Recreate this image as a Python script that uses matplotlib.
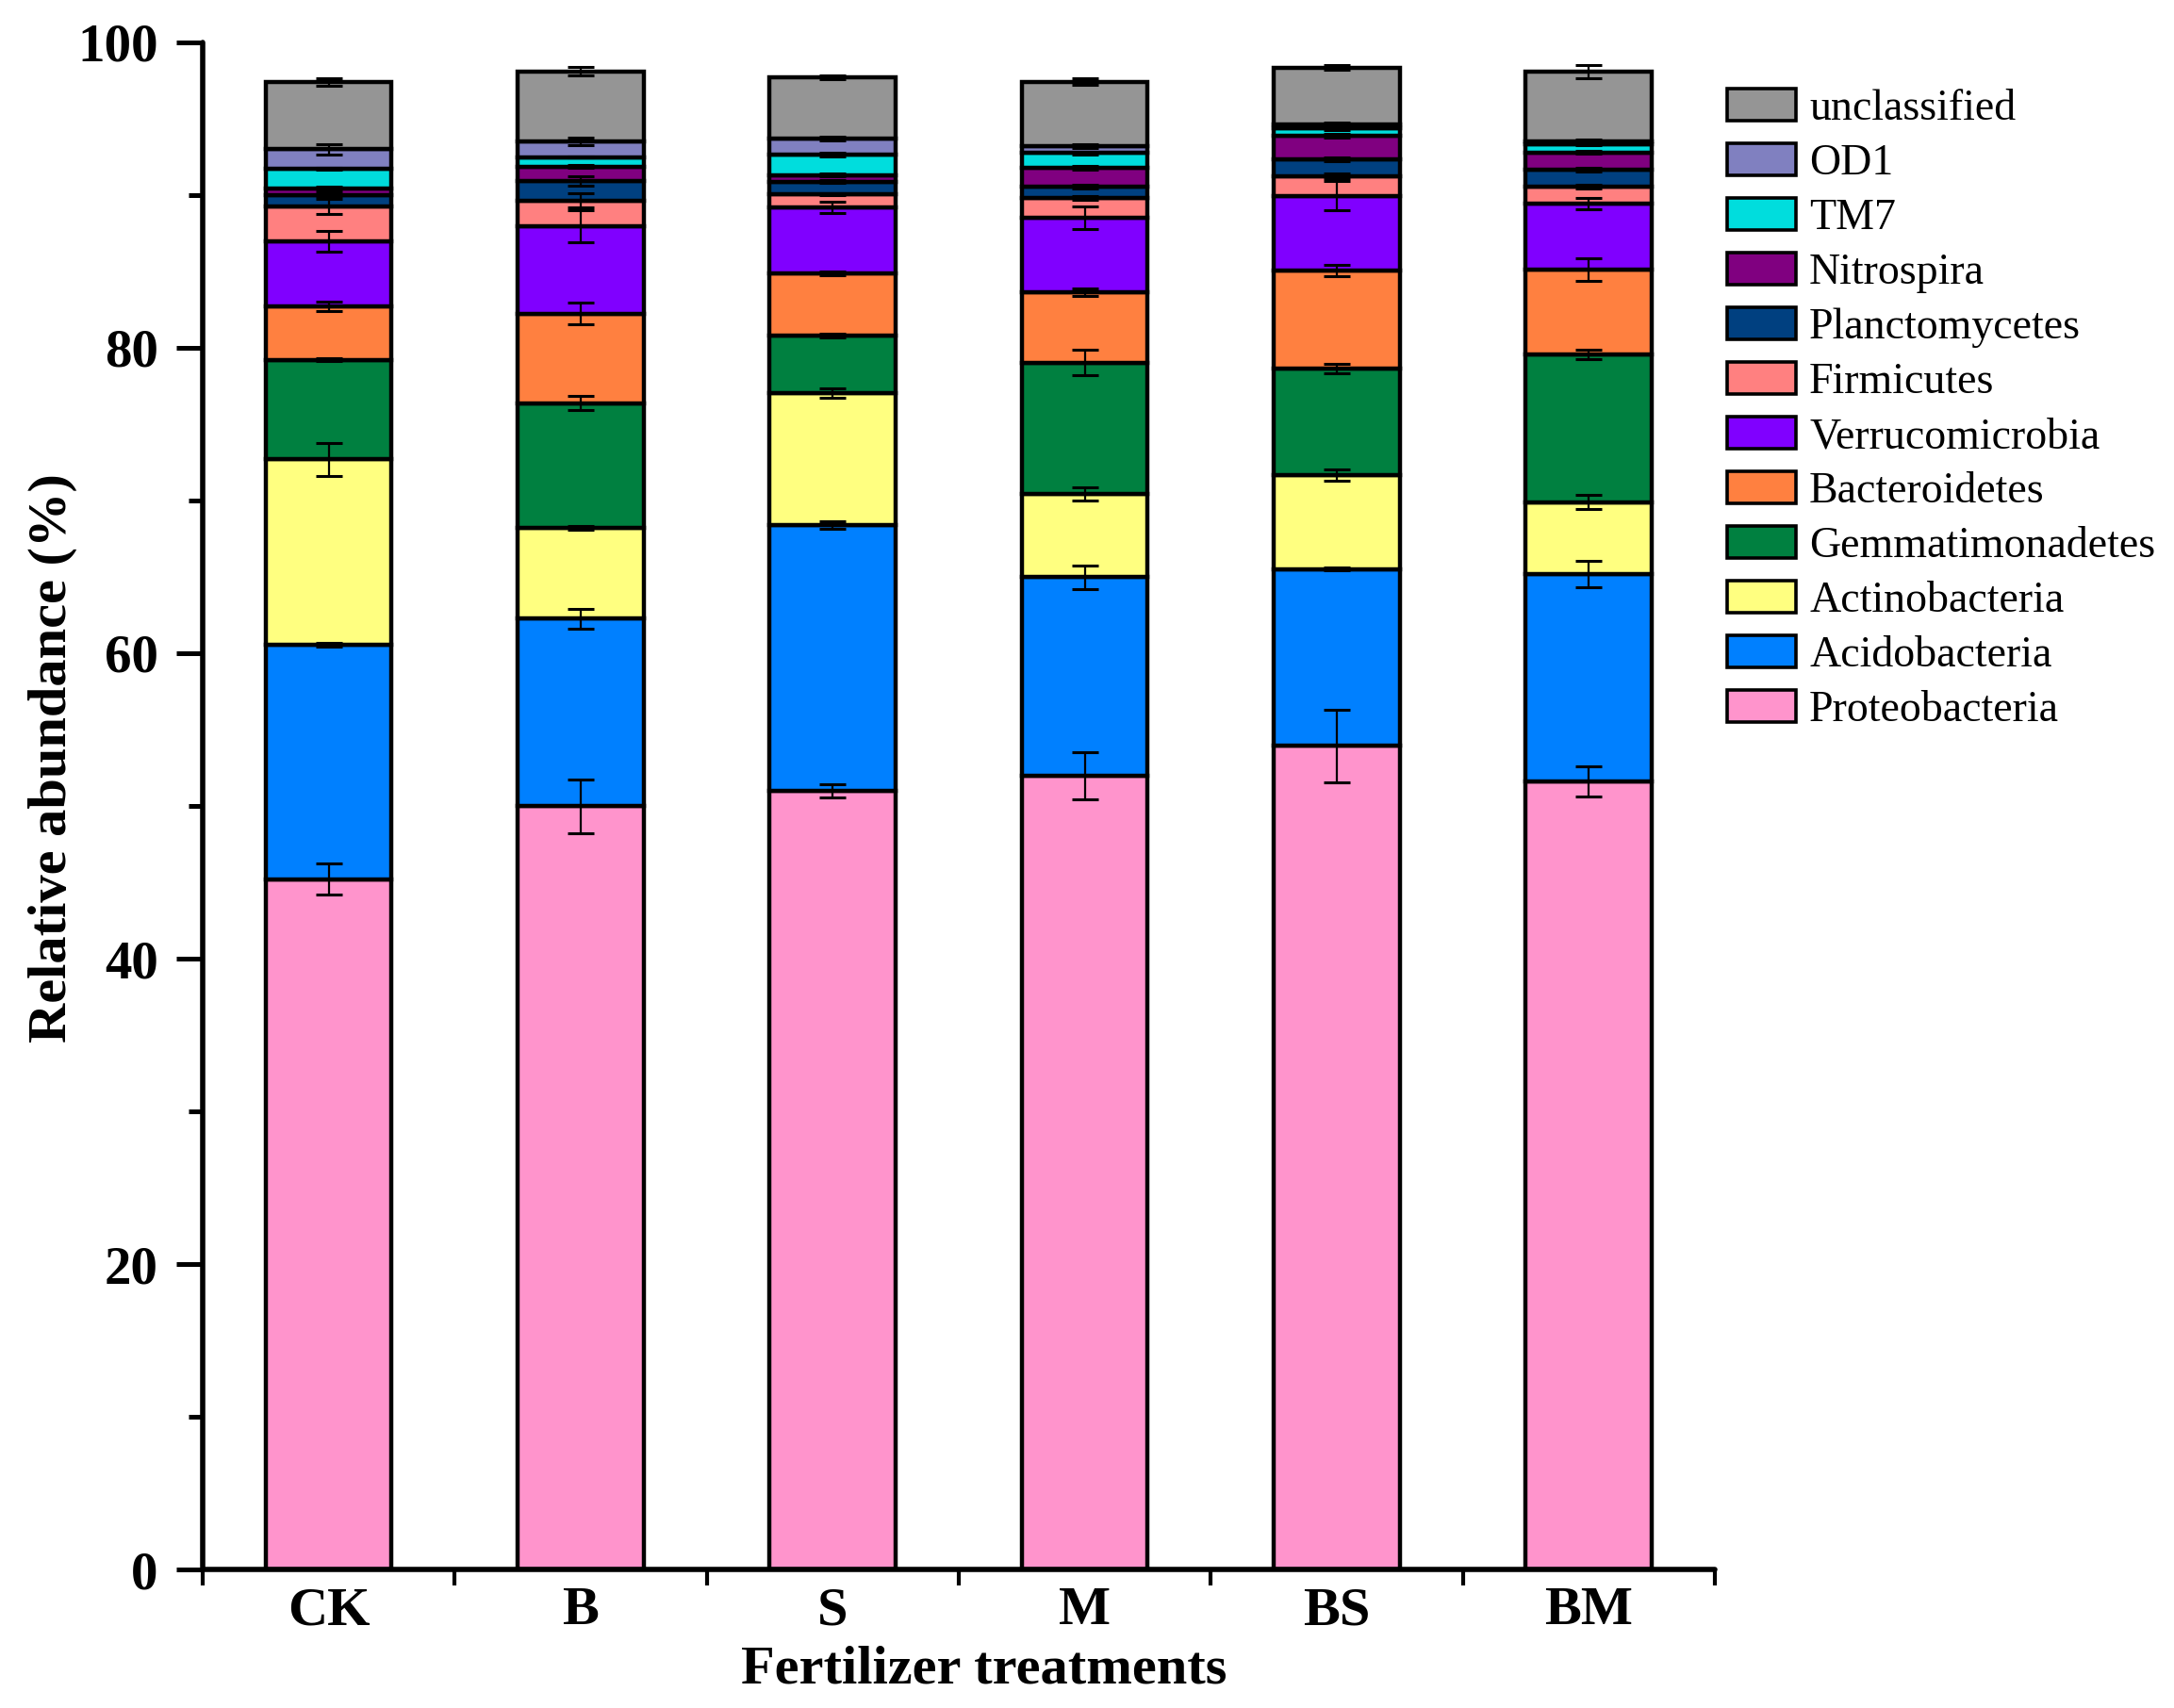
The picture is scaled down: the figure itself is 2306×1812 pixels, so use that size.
import numpy as np
import matplotlib
matplotlib.use("Agg")
import matplotlib.pyplot as plt
from matplotlib.patches import Patch
from matplotlib.ticker import MultipleLocator, FixedLocator, NullFormatter

plt.rcParams['font.family'] = ['Liberation Serif', 'DejaVu Serif']

# treatments on the x axis
treatments = ['CK', 'B', 'S', 'M', 'BS', 'BM']

# phyla, bottom of the stack first
phyla = ['Proteobacteria', 'Acidobacteria', 'Actinobacteria', 'Gemmatimonadetes',
         'Bacteroidetes', 'Verrucomicrobia', 'Firmicutes', 'Planctomycetes',
         'Nitrospira', 'TM7', 'OD1', 'unclassified']

colors = ['#FF94CC', '#0080FF', '#FFFF80', '#008040', '#FF8040', '#8000FF',
          '#FF8080', '#004080', '#800080', '#00DDDD', '#8080C0', '#959595']

# relative abundance (%) per phylum, one value per treatment
proteobacteria   = [45.20, 49.98, 51.00, 52.00, 53.93, 51.60]
acidobacteria    = [15.35, 12.28, 17.40, 12.97, 11.57, 13.56]
actinobacteria   = [12.15, 5.94, 8.63, 5.47, 6.18, 4.74]
gemmatimonadetes = [6.52, 8.18, 3.78, 8.58, 6.97, 9.67]
bacteroidetes    = [3.50, 5.87, 4.07, 4.63, 6.43, 5.56]
verrucomicrobia  = [4.26, 5.71, 4.32, 4.87, 4.88, 4.31]
firmicutes       = [2.28, 1.69, 0.86, 1.29, 1.29, 1.13]
planctomycetes   = [0.76, 1.29, 0.82, 0.76, 1.08, 1.10]
nitrospira       = [0.41, 0.93, 0.43, 1.20, 1.54, 1.13]
tm7              = [1.28, 0.62, 1.36, 0.99, 0.51, 0.51]
od1              = [1.29, 1.03, 1.05, 0.44, 0.27, 0.21]
unclassified     = [4.42, 4.58, 4.01, 4.22, 3.70, 4.58]

# standard errors
err_proteobacteria   = [1.03, 1.77, 0.45, 1.54, 2.37, 0.97]
err_acidobacteria    = [0.10, 0.64, 0.23, 0.77, 0.10, 0.86]
err_actinobacteria   = [1.09, 0.12, 0.33, 0.44, 0.38, 0.47]
err_gemmatimonadetes = [0.10, 0.44, 0.12, 0.83, 0.31, 0.31]
err_bacteroidetes    = [0.31, 0.68, 0.10, 0.23, 0.38, 0.73]
err_verrucomicrobia  = [0.68, 1.03, 0.36, 0.73, 0.98, 0.37]
err_firmicutes       = [0.48, 0.45, 0.05, 0.10, 0.15, 0.12]
err_planctomycetes   = [0.10, 0.31, 0.08, 0.12, 0.12, 0.12]
err_nitrospira       = [0.10, 0.10, 0.10, 0.12, 0.12, 0.08]
err_tm7              = [0.05, 0.05, 0.12, 0.10, 0.10, 0.05]
err_od1              = [0.36, 0.27, 0.12, 0.12, 0.10, 0.10]
err_unclassified     = [0.25, 0.29, 0.12, 0.23, 0.15, 0.42]

values = [proteobacteria, acidobacteria, actinobacteria, gemmatimonadetes,
          bacteroidetes, verrucomicrobia, firmicutes, planctomycetes,
          nitrospira, tm7, od1, unclassified]
errors = [err_proteobacteria, err_acidobacteria, err_actinobacteria,
          err_gemmatimonadetes, err_bacteroidetes, err_verrucomicrobia,
          err_firmicutes, err_planctomycetes, err_nitrospira, err_tm7,
          err_od1, err_unclassified]

fig = plt.figure(figsize=(23.06, 18.12), dpi=100)
ax = fig.add_axes([0.0932, 0.0811, 0.6956, 0.8941])

x = np.arange(len(treatments))
bottom = np.zeros(len(treatments))
tops = []
for vals, col in zip(values, colors):
    vals = np.array(vals)
    ax.bar(x, vals, width=0.5, bottom=bottom, color=col,
           edgecolor='black', linewidth=3.2, zorder=2)
    bottom = bottom + vals
    tops.append(bottom.copy())

for top, err in zip(tops, errors):
    ax.errorbar(x, top, yerr=err, fmt='none', ecolor='black',
                elinewidth=1.6, capsize=10, capthick=2.2, zorder=4)

ax.set_xlim(-0.5, 5.5)
ax.set_ylim(0, 100)

for side in ['top', 'right']:
    ax.spines[side].set_visible(False)
for side in ['left', 'bottom']:
    ax.spines[side].set_linewidth(4)
    ax.spines[side].set_capstyle('round')

# y axis: labelled majors every 20, minors every 10
ax.yaxis.set_major_locator(MultipleLocator(20))
ax.yaxis.set_minor_locator(MultipleLocator(10))
ax.tick_params(axis='y', which='major', direction='out', length=20, width=3.6,
               pad=14, labelsize=41)
ax.tick_params(axis='y', which='minor', direction='out', length=11, width=3.6)
for lab in ax.get_yticklabels():
    lab.set_fontweight('bold')

# x axis: tick marks between groups, names at group centres
ax.xaxis.set_major_locator(FixedLocator(np.arange(-0.5, 6.0, 1.0)))
ax.xaxis.set_major_formatter(NullFormatter())
ax.xaxis.set_minor_locator(FixedLocator(x))
ax.set_xticklabels(treatments, minor=True)
ax.tick_params(axis='x', which='major', direction='out', length=12, width=3)
ax.tick_params(axis='x', which='minor', length=0, pad=13, labelsize=42)
for lab in ax.get_xticklabels(minor=True):
    lab.set_fontweight('bold')

fig.text(1044 / 2306, 1 - 1772 / 1812, 'Fertilizer treatments', fontsize=42,
         fontweight='bold', ha='center', va='center')
fig.text(56 / 2306, 1 - 804 / 1812, 'Relative abundance (%)', fontsize=42,
         fontweight='bold', ha='center', va='center', rotation=90)

handles = [Patch(facecolor=c, edgecolor='black', linewidth=2.6, label=p)
           for p, c in zip(phyla, colors)]
fig.legend(handles=handles[::-1], loc='upper left',
           bbox_to_anchor=(1832 / 2306, 1 - 94 / 1812), frameon=False,
           fontsize=33, handlelength=1.6, handleheight=0.76,
           handletextpad=0.3, labelspacing=0.33, borderpad=0,
           borderaxespad=0)

fig.savefig('out.png', dpi=100, facecolor='white')
